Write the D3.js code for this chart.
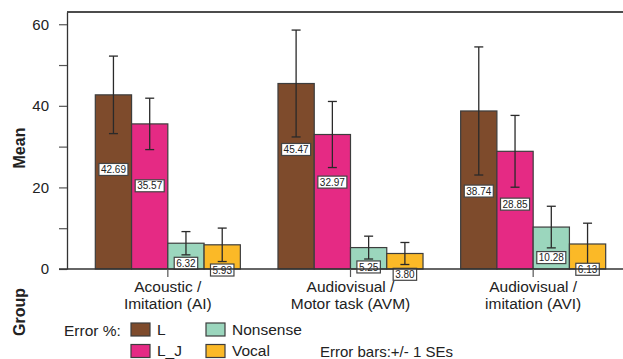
<!DOCTYPE html>
<html>
<head>
<meta charset="utf-8">
<script src="https://cdn.jsdelivr.net/npm/d3@7"></script>
<style>
  body { margin: 0; background: #fff; }
  text { font-family: "Liberation Sans", Arial, sans-serif; fill: #222; }
</style>
</head>
<body>
<svg id="chart" width="623" height="359"></svg>
<script>
// data
const groups = ["AI", "AVM", "AVI"]
const groupLines = [["Acoustic /", "Imitation (AI)"], ["Audiovisual /", "Motor task (AVM)"], ["Audiovisual /", "imitation (AVI)"]]
const series = ["L", "L_J", "Nonsense", "Vocal"]
const means = [
    [42.69, 35.57, 6.32, 5.93],
    [45.47, 32.97, 5.25, 3.80],
    [38.74, 28.85, 10.28, 6.13]
]
const ses = [
    [9.5, 6.3, 2.85, 4.1],
    [13.1, 8.1, 2.8, 2.7],
    [15.7, 8.8, 5.1, 5.1]
]
// where the value boxes sit (data units), as placed in the original
const labelAt = [
    [24.4, 20.4, 1.4, -0.25],
    [29.3, 21.3, 0.5, -1.3],
    [19.1, 15.9, 2.8, -0.07]
]
const yTicks = [0, 10, 20, 30, 40, 50, 60]

const colors = { "L": "#7e4b2c", "L_J": "#e52a84", "Nonsense": "#9bd6bd", "Vocal": "#fbb927" }

let svg = d3.select("#chart")

let x0 = d3.scaleBand().domain(groups).range([67, 634]).paddingInner(0.206).paddingOuter(0.155)
let x1 = d3.scaleBand().domain(series).range([0, x0.bandwidth()])
let y = d3.scaleLinear().domain([0, 63]).range([269, 12])

// frame top line
svg.append("line")
    .attr("x1", 67).attr("x2", 623)
    .attr("y1", y(63)).attr("y2", y(63))
    .attr("stroke", "#111").attr("stroke-width", 1.5)

// y axis
let yAxis = svg.append("g")
    .attr("transform", "translate(67,0)")
    .call(d3.axisLeft(y).tickValues(yTicks).tickSize(8).tickSizeOuter(0)
        .tickFormat(d => d % 20 == 0 ? d : ""))
yAxis.select(".domain").attr("stroke", "#333").attr("stroke-width", 1.3)
yAxis.selectAll(".tick line").attr("stroke", "#555").attr("stroke-width", 1.2)
yAxis.selectAll(".tick text")
    .attr("x", -18)
    .style("font-size", "15px")
    .style("font-family", "'Liberation Sans', Arial, sans-serif")
    .attr("fill", "#222")

// bars
let gGroups = svg.append("g")
    .selectAll("g")
    .data(groups)
    .enter()
    .append("g")
    .attr("transform", d => `translate(${x0(d)},0)`)

gGroups.selectAll("rect")
    .data((d, gi) => series.map((s, si) => ({ s: s, v: means[gi][si] })))
    .enter()
    .append("rect")
    .attr("x", d => x1(d.s))
    .attr("y", d => y(d.v))
    .attr("width", x1.bandwidth())
    .attr("height", d => y(0) - y(d.v))
    .attr("fill", d => colors[d.s])
    .attr("stroke", "#3d3d3d")
    .attr("stroke-width", 1.2)

// x axis line + ticks
svg.append("line")
    .attr("x1", 59).attr("x2", 623)
    .attr("y1", y(0)).attr("y2", y(0))
    .attr("stroke", "#333").attr("stroke-width", 1.3)

groups.forEach((g, gi) => {
    let cx = x0(g) + x0.bandwidth() / 2
    svg.append("line")
        .attr("x1", cx).attr("x2", cx)
        .attr("y1", y(0)).attr("y2", y(0) + 8)
        .attr("stroke", "#555").attr("stroke-width", 1.2)
    let t = svg.append("text")
        .attr("text-anchor", "middle")
        .style("font-size", "15.5px")
    groupLines[gi].forEach((line, li) => {
        t.append("tspan").attr("x", cx).attr("y", 292 + li * 17).text(line)
    })
})

// error bars
gGroups.each(function (g, gi) {
    let eg = d3.select(this).append("g")
    series.forEach((s, si) => {
        let cx = x1(s) + x1.bandwidth() / 2
        let lo = means[gi][si] - ses[gi][si]
        let hi = means[gi][si] + ses[gi][si]
        eg.append("line")
            .attr("x1", cx).attr("x2", cx)
            .attr("y1", y(lo)).attr("y2", y(hi))
            .attr("stroke", "#2a2a2a").attr("stroke-width", 1.3)
        ;[lo, hi].forEach(v => {
            eg.append("line")
                .attr("x1", cx - 4.5).attr("x2", cx + 4.5)
                .attr("y1", y(v)).attr("y2", y(v))
                .attr("stroke", "#2a2a2a").attr("stroke-width", 1.3)
        })
    })
})

// value boxes
gGroups.each(function (g, gi) {
    let lg = d3.select(this).append("g")
    series.forEach((s, si) => {
        let cx = x1(s) + x1.bandwidth() / 2
        let cy = y(labelAt[gi][si])
        let box = lg.append("rect")
        let t = lg.append("text")
            .attr("x", cx).attr("y", cy + 3.6)
            .attr("text-anchor", "middle")
            .style("font-size", "10px")
            .text(means[gi][si].toFixed(2))
        let w = t.node().getComputedTextLength() + 4
        box.attr("x", cx - w / 2).attr("y", cy - 6)
            .attr("width", w).attr("height", 12)
            .attr("fill", "#fff")
            .attr("stroke", "#444").attr("stroke-width", 1.2)
    })
})

// axis titles
svg.append("text")
    .attr("transform", "translate(25,148) rotate(-90)")
    .attr("text-anchor", "middle")
    .style("font-size", "16px").style("font-weight", "bold")
    .text("Mean")
svg.append("text")
    .attr("transform", "translate(25,312) rotate(-90)")
    .attr("text-anchor", "middle")
    .style("font-size", "16px").style("font-weight", "bold")
    .text("Group")

// legend
svg.append("text").attr("x", 64).attr("y", 335.5).style("font-size", "15.5px").text("Error %:")
let legendPos = [[131, 323], [131, 344.5], [206, 323], [206, 344.5]]
series.forEach((s, i) => {
    let [lx, ly] = legendPos[i]
    svg.append("rect")
        .attr("x", lx).attr("y", ly)
        .attr("width", 19).attr("height", 13)
        .attr("fill", colors[s])
        .attr("stroke", "#3d3d3d").attr("stroke-width", 1.2)
    svg.append("text")
        .attr("x", lx + 26).attr("y", ly + 11.5)
        .style("font-size", "15.5px")
        .text(s)
})
svg.append("text").attr("x", 320).attr("y", 357).style("font-size", "15px").text("Error bars:+/- 1 SEs")
</script>
</body>
</html>
